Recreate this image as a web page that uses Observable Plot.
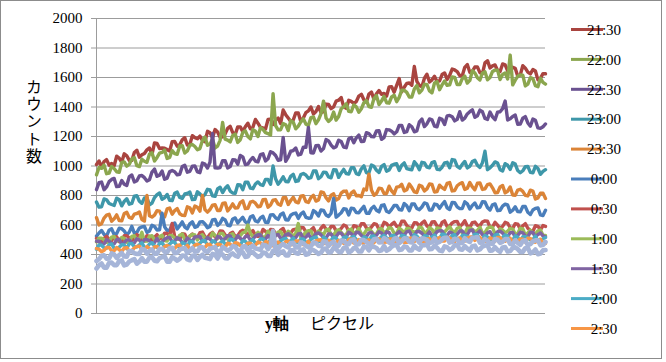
<!DOCTYPE html>
<html>
<head>
<meta charset="utf-8">
<script src="https://cdn.jsdelivr.net/npm/d3@7"></script>
<script src="https://cdn.jsdelivr.net/npm/@observablehq/plot@0.6"></script>
<style>
  html, body { margin: 0; padding: 0; background: #fff; }
</style>
</head>
<body>
<div id="chart"></div>
<script>
// Series names (time of measurement); the legend lists the first eleven.
const times = ["21:30", "22:00", "22:30", "23:00", "23:30", "0:00", "0:30", "1:00", "1:30", "2:00", "2:30", "3:00", "3:30"];
const legendCount = 11;
const colors = ["#A9443F", "#8BA64E", "#6A5190", "#3E97A9", "#DB8437", "#4A7EBB", "#C0504D", "#9BBB59", "#8064A2", "#4BACC6", "#F79646", "#A6B5D8", "#A6B5D8"];

// Counts along the y-axis pixel index, one array per time.
const s2130 = [1010,1034,994,1030,1043,1006,1017,1002,1066,1054,1025,1083,1069,1038,1038,1092,1107,1060,1076,1085,
1110,1122,1079,1156,1153,1118,1122,1120,1111,1102,1165,1166,1134,1144,1178,1192,1142,1146,1206,1192,
1185,1203,1173,1164,1235,1226,1192,1247,1230,1194,1198,1218,1255,1269,1227,1214,1265,1265,1233,1266,
1290,1252,1262,1316,1290,1262,1258,1250,1315,1318,1282,1312,1325,1288,1380,1348,1325,1302,1312,1360,
1360,1302,1325,1362,1374,1400,1353,1370,1403,1362,1368,1420,1417,1389,1401,1440,1446,1464,1401,1391,
1445,1438,1424,1437,1474,1486,1449,1432,1488,1502,1452,1490,1512,1486,1492,1474,1536,1538,1500,1546,
1593,1503,1534,1560,1563,1547,1675,1574,1546,1538,1595,1622,1569,1584,1608,1572,1577,1620,1631,1587,
1615,1657,1651,1640,1612,1612,1669,1688,1635,1641,1671,1672,1633,1626,1699,1714,1665,1679,1685,1647,
1641,1692,1686,1645,1652,1669,1662,1608,1618,1680,1663,1636,1624,1654,1644,1584,1595,1626,1625];
const s2200 = [940,990,984,1006,948,952,997,983,961,957,1025,1028,999,1012,1048,1057,1002,996,1046,1032,
1025,1081,1089,1034,1058,1087,1092,1108,1051,1058,1105,1084,1079,1136,1138,1088,1102,1140,1146,1132,
1110,1118,1173,1196,1140,1149,1182,1122,1135,1174,1295,1182,1175,1163,1207,1216,1160,1178,1228,1238,
1200,1184,1247,1236,1200,1260,1248,1226,1220,1210,1490,1274,1245,1246,1288,1280,1240,1308,1297,1252,
1270,1299,1320,1285,1274,1328,1333,1287,1313,1355,1440,1326,1302,1318,1366,1311,1336,1388,1401,1422,
1370,1368,1414,1401,1364,1388,1429,1444,1403,1398,1457,1477,1417,1440,1472,1429,1426,1469,1480,1436,
1465,1514,1514,1499,1468,1467,1522,1545,1496,1514,1555,1552,1509,1496,1563,1572,1517,1550,1576,1547,
1550,1604,1601,1552,1552,1592,1609,1562,1580,1646,1631,1599,1583,1631,1639,1584,1600,1641,1650,1650,
1586,1620,1631,1590,1752,1550,1582,1608,1618,1616,1543,1555,1599,1592,1544,1538,1595,1567,1555];
const s2230 = [840,887,891,839,858,894,909,916,860,862,901,877,868,928,939,892,900,932,936,921,
898,907,959,979,930,938,966,910,918,962,969,961,940,944,996,1005,958,964,999,1001,
960,955,1020,1013,986,1026,1220,987,986,990,1036,1036,987,996,1042,1041,1012,1072,1062,1010,
1013,1040,1058,1033,1028,1077,1083,1034,1049,1097,1089,1071,1039,1042,1193,1032,1060,1100,1105,1122,
1075,1081,1128,1126,1261,1089,1088,1138,1140,1101,1118,1179,1170,1142,1123,1131,1175,1166,1128,1124,
1185,1193,1158,1191,1210,1165,1168,1226,1220,1199,1198,1237,1240,1181,1193,1247,1245,1236,1218,1232,
1275,1275,1227,1233,1280,1266,1232,1238,1299,1318,1267,1286,1319,1313,1271,1266,1324,1316,1281,1340,
1343,1334,1306,1316,1368,1311,1325,1353,1368,1381,1330,1340,1379,1368,1322,1316,1366,1333,1314,1365,
1368,1389,1440,1312,1320,1336,1345,1283,1285,1324,1335,1292,1270,1318,1310,1258,1255,1266,1285];
const s2300 = [755,721,723,777,771,746,739,733,782,771,730,760,778,741,746,796,799,761,747,784,
785,736,748,786,806,817,774,784,807,768,765,815,823,787,781,810,814,823,772,774,
825,811,791,807,842,838,798,794,844,856,820,849,866,830,817,815,873,871,839,891,
890,850,846,878,892,874,868,909,909,876,1000,913,876,899,927,895,893,930,944,895,
900,942,949,939,917,921,966,967,914,927,958,957,926,920,975,973,923,953,977,949,
945,988,989,948,942,981,1001,954,954,1006,998,971,956,998,1010,965,973,1004,1012,1015,
970,1005,1021,982,978,974,1029,1008,975,1025,1021,992,988,1023,1029,978,975,992,1021,1025,
988,1044,1039,997,985,1011,1031,987,998,1030,1039,1005,990,1022,1100,975,987,1005,1028,1020,
975,966,1016,1005,977,1022,1013,969,954,968,995,997,957,954,998,983,944,963,975];
const s2330 = [650,600,609,647,667,673,626,642,669,630,628,678,686,651,645,674,678,688,637,627,
800,663,654,667,697,694,656,655,709,715,673,698,711,676,665,664,723,717,682,728,
720,694,800,704,687,705,735,737,698,698,746,750,695,716,743,715,716,752,764,711,
713,755,761,748,724,727,772,773,721,736,769,771,742,734,785,786,739,766,787,756,
750,795,799,758,753,786,801,762,770,824,819,785,763,802,811,769,780,816,829,830,
783,816,831,798,800,792,844,837,945,837,801,814,850,847,814,814,863,831,811,857,
860,876,831,839,878,854,824,820,870,862,831,845,878,875,824,826,870,853,841,882,
888,831,834,866,880,887,841,849,888,858,839,883,885,841,845,874,879,852,819,820,
858,868,818,829,858,803,802,837,842,828,801,797,836,830,776,784,815,816,780];
const s0000 = [525,546,563,536,526,565,574,536,542,578,575,559,533,552,591,545,549,580,587,590,
550,559,598,590,566,567,680,588,562,564,605,614,573,595,621,586,574,608,622,584,
590,621,623,607,581,590,634,638,597,613,645,634,598,595,641,648,614,635,652,621,
610,654,663,627,621,648,659,618,617,669,670,649,638,672,681,636,634,666,677,681,
645,674,688,652,646,647,698,685,661,702,699,668,657,680,780,653,667,683,710,707,
668,714,710,684,683,706,726,680,679,712,726,700,689,733,737,693,685,706,732,733,
705,701,746,730,697,742,743,712,704,722,750,744,701,702,742,738,713,738,759,717,
705,753,751,723,711,712,757,744,708,733,749,716,720,758,756,719,702,737,743,697,
700,728,741,736,687,700,723,691,689,725,725,686,671,702,713,716,669,664,700];
const s0030 = [510,486,486,510,523,504,494,521,520,487,486,527,528,512,499,507,535,524,496,494,
528,523,494,518,535,509,511,545,543,525,610,522,505,503,541,538,503,523,539,519,
515,548,552,520,513,538,550,520,521,560,558,532,514,542,551,521,527,554,564,560,
525,550,562,530,523,526,570,557,536,570,568,543,534,565,576,538,532,546,569,571,
545,584,582,554,545,566,582,545,544,578,597,572,559,591,591,560,558,577,600,591,
558,556,595,590,572,608,609,580,572,586,609,604,571,578,618,610,586,604,618,590,
585,625,625,597,581,580,616,614,591,613,627,593,587,620,622,594,582,617,628,590,
593,614,623,624,589,605,629,594,584,616,620,598,595,620,628,626,585,586,618,599,
576,591,618,612,581,577,609,606,571,594,609,578,562,558,595,591,567,596,590];
const s0100 = [485,510,511,500,482,486,518,522,490,497,516,509,482,482,523,527,499,504,550,490,
491,523,527,501,499,520,530,494,491,529,527,511,503,531,539,502,500,526,536,533,
498,522,534,510,510,508,546,530,507,543,543,516,504,532,540,512,517,528,548,552,
600,544,520,526,551,536,517,520,558,544,514,526,551,555,527,528,558,539,524,544,
610,516,531,552,562,560,523,531,559,543,535,567,571,536,532,558,568,550,529,535,
565,573,541,553,577,540,538,566,574,558,535,539,571,575,547,557,583,576,544,542,
580,566,540,576,576,560,551,556,586,580,547,554,582,570,542,580,577,549,553,572,
588,562,548,578,584,546,544,578,579,571,555,562,585,546,548,578,587,582,540,545,
574,566,547,558,576,572,539,542,578,574,531,546,565,542,538,560,566,530,530];
const s0130 = [490,491,466,472,500,491,473,472,500,502,468,480,499,499,480,478,507,498,475,502,
501,493,474,481,509,479,485,504,514,516,485,492,513,506,481,482,512,498,491,519,
521,523,489,493,515,504,488,489,522,517,498,507,527,526,498,499,527,509,495,521,
526,498,505,525,534,534,502,506,528,510,501,531,536,510,512,533,541,528,512,515,
540,542,508,518,538,512,517,541,546,534,514,513,539,540,512,522,546,545,522,518,
550,541,521,551,549,529,517,521,547,549,526,531,555,546,523,554,548,520,521,540,
555,537,530,555,559,528,529,556,556,544,524,532,554,525,532,555,561,560,528,529,
553,545,526,538,559,559,534,534,563,566,533,544,560,534,526,547,555,527,531,555,
558,545,524,523,548,550,519,530,551,547,525,520,552,550,520,535,546,526,520];
const s0200 = [435,465,463,445,442,466,472,442,440,449,466,465,439,474,474,453,450,466,479,448,
450,471,479,458,447,476,478,455,457,470,487,482,455,450,481,473,454,488,489,468,
465,476,494,493,465,465,493,484,461,478,492,471,471,504,500,479,468,465,494,489,
467,488,501,476,477,506,506,485,477,502,505,471,473,493,504,510,483,494,512,485,
480,506,506,483,479,503,513,519,489,490,518,506,489,498,517,512,485,484,516,520,
495,514,524,501,492,487,518,513,491,524,525,502,501,521,530,512,501,528,529,499,
497,530,527,514,506,511,534,525,501,498,527,524,499,520,532,507,508,538,536,516,
506,529,534,500,501,530,531,522,510,517,538,535,505,506,529,519,500,502,531,536,
505,514,532,525,501,498,527,517,492,520,521,515,498,501,525,490,491,507,515];
const s0230 = [440,436,419,429,447,448,424,426,447,432,421,443,447,422,427,445,455,457,431,434,
454,439,429,452,455,432,434,454,462,452,439,441,462,464,436,445,462,438,442,464,
470,461,446,448,469,468,444,451,470,469,449,448,477,470,454,480,477,461,451,455,
477,477,457,463,485,479,461,487,484,460,459,474,485,470,464,487,492,466,469,492,
492,482,466,472,491,465,470,492,498,500,474,476,496,487,470,480,496,496,475,476,
502,505,478,488,501,480,475,494,500,476,479,502,507,498,483,484,505,506,479,488,
505,502,483,482,511,511,487,500,509,490,483,506,509,489,487,505,515,491,491,517,
513,497,487,508,513,488,491,511,519,519,495,510,517,494,489,486,513,505,490,516,
515,496,489,508,510,484,482,491,506,504,483,511,509,488,483,496,504,476,475];
const s0300 = [355,369,391,395,371,373,407,400,377,396,410,386,385,424,424,408,404,403,438,432,
406,424,434,406,405,438,439,419,415,442,446,409,412,432,440,444,411,424,444,420,
420,448,449,423,417,439,445,450,416,417,450,440,426,436,457,453,425,422,454,456,
426,447,460,440,437,432,467,462,436,462,560,433,437,460,471,456,448,478,480,448,
447,482,476,460,448,455,482,478,459,456,489,486,458,476,487,459,459,494,493,476,
470,496,502,466,469,500,498,486,470,479,504,506,481,484,511,502,480,478,507,512,
477,490,510,508,485,482,515,506,480,510,507,498,477,482,510,478,485,503,513,514,
480,486,507,502,477,478,510,494,485,514,515,518,480,482,505,492,474,472,505,500,
479,486,505,504,471,470,496,478,465,492,496,463,470,489,496,497,462,464,485];
const s0330 = [305,326,339,311,311,344,345,328,328,356,360,326,332,352,361,368,338,352,375,352,
352,381,382,358,354,376,383,388,352,351,382,372,358,370,393,392,367,361,391,393,
363,384,398,378,374,369,404,398,373,404,400,375,374,397,408,392,385,414,415,384,
386,420,415,398,384,388,413,410,390,390,425,424,398,414,422,394,394,429,428,410,
405,430,435,399,403,432,430,419,404,413,438,440,413,417,445,438,418,416,445,450,
414,424,443,442,420,420,455,450,428,456,452,444,424,429,458,426,435,453,463,464,
430,434,455,451,427,428,460,442,433,462,463,469,435,438,460,446,427,423,455,450,
430,440,463,465,435,432,457,440,427,456,460,428,435,454,461,462,426,428,449,430,
419,448,450,420,423,444,449,436,418,418,443,446,408,415,434,402,407,428,430];

const seriesValues = [s2130, s2200, s2230, s2300, s2330, s0000, s0030, s0100, s0130, s0200, s0230, s0300, s0330];
const yTicks = [0, 200, 400, 600, 800, 1000, 1200, 1400, 1600, 1800, 2000];
const yLabel = "カウント数";
const xLabelA = "y軸";
const xLabelB = "ピクセル";

const serif = "Liberation Serif, Times New Roman, Tinos, DejaVu Serif, serif";
const jp = "Noto Sans CJK JP, sans-serif";
const gridColor = "#9C9C9C";
const lastIndex = s2130.length - 1;

const chart = Plot.plot({
  width: 666,
  height: 362,
  marginLeft: 96,
  marginRight: 121,
  marginTop: 18,
  marginBottom: 49,
  style: { fontFamily: serif, fontSize: "15px", background: "#fff", color: "#000" },
  x: { domain: [0, lastIndex], axis: null },
  y: { domain: [0, 2000], axis: null },
  marks: [
    Plot.gridY(yTicks, { stroke: gridColor, strokeOpacity: 1, strokeWidth: 1 }),
    Plot.ruleX([0], { y1: 0, y2: 2000, stroke: gridColor, strokeWidth: 1 }),
    Plot.axisY(yTicks, {
      tickSize: 5, tickPadding: 9, stroke: gridColor, fill: "#000",
      fontSize: 15, fontFamily: serif, tickFormat: d => String(d)
    }),
    ...seriesValues.map((vals, k) => Plot.line(vals, {
      x: (d, i) => i, y: d => d,
      stroke: colors[k], strokeWidth: k >= 11 ? 4.6 : 3.4,
      strokeLinejoin: "round", strokeLinecap: "round"
    })),
    Plot.text([xLabelA], { frameAnchor: "bottom", dx: -32, dy: 15, textAnchor: "end", fontSize: 16, fontWeight: "bold", fontFamily: serif, fill: "#000" }),
    Plot.text([xLabelB], { frameAnchor: "bottom", dx: -11, dy: 15, textAnchor: "start", fontSize: 16, fontFamily: jp, fill: "#000" })
  ]
});

const svg = d3.select(chart);

// Vertical y-axis title, set in upright vertical writing.
svg.append("text")
  .attr("x", 34).attr("y", 122)
  .attr("font-family", jp).attr("font-size", 16).attr("fill", "#000")
  .attr("writing-mode", "tb")
  .style("writing-mode", "vertical-rl")
  .style("text-orientation", "upright")
  .style("letter-spacing", "1.2px")
  .text(yLabel);

// Legend on the right.
const legend = svg.append("g");
times.slice(0, legendCount).forEach((t, k) => {
  const y = 29.5 + k * 29.9;
  legend.append("line")
    .attr("x1", 571).attr("x2", 603).attr("y1", y).attr("y2", y)
    .attr("stroke", colors[k]).attr("stroke-width", 3);
  legend.append("text")
    .attr("x", 604).attr("y", y).attr("dy", "0.35em")
    .attr("font-family", serif).attr("font-size", 15).attr("fill", "#000")
    .text(t);
});

// Outer chart border.
svg.append("rect")
  .attr("x", 0.5).attr("y", 0.5).attr("width", 661).attr("height", 358)
  .attr("fill", "none").attr("stroke", "#8C8C8C").attr("stroke-width", 1);

document.getElementById("chart").appendChild(chart);
</script>
</body>
</html>
